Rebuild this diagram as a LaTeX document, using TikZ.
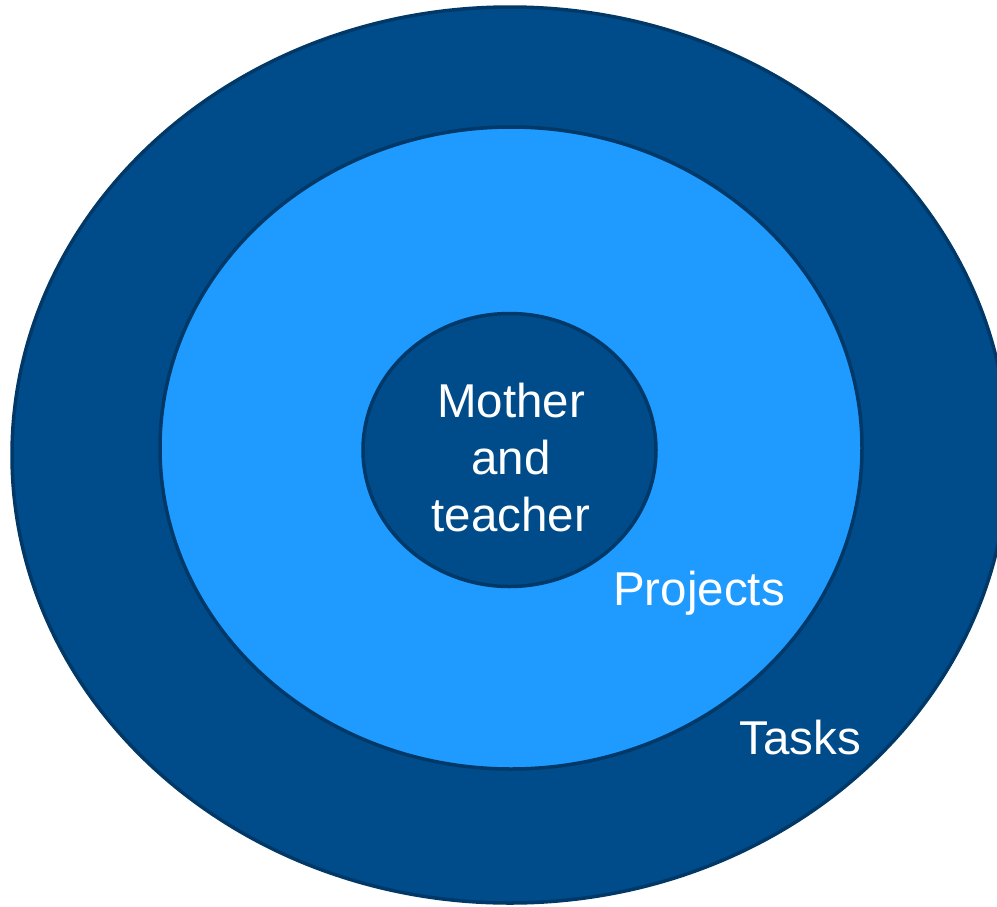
\documentclass[tikz,border=0pt]{standalone}
\usepackage{fontspec}
\setmainfont{Liberation Sans}
\definecolor{darkblue}{RGB}{0,76,138}
\definecolor{edgeblue}{RGB}{0,56,104}
\definecolor{lightblue}{RGB}{31,155,255}
\begin{document}
\begin{tikzpicture}[x=1pt,y=-1pt,
  ring/.style={draw=edgeblue,line width=3.5pt},
  lbl/.style={text=white,font=\fontsize{47.5}{57}\selectfont,inner sep=0pt}]
\useasboundingbox (0,0) rectangle (997,906);
\clip (0,0) rectangle (997,906);
\path[ring,fill=darkblue] (510,455) ellipse [x radius=498,y radius=448];
\path[ring,fill=lightblue] (511,448) ellipse [x radius=351,y radius=321];
\path[ring,fill=darkblue] (509.5,450) ellipse [x radius=146.5,y radius=136.5];
\node[lbl,align=center] (core) at (511,458) {Mother\\and\\teacher};
\node[lbl] (proj) at (699,593) {Projects};
\node[lbl] (tasks) at (800,738) {Tasks};
\end{tikzpicture}
\end{document}
